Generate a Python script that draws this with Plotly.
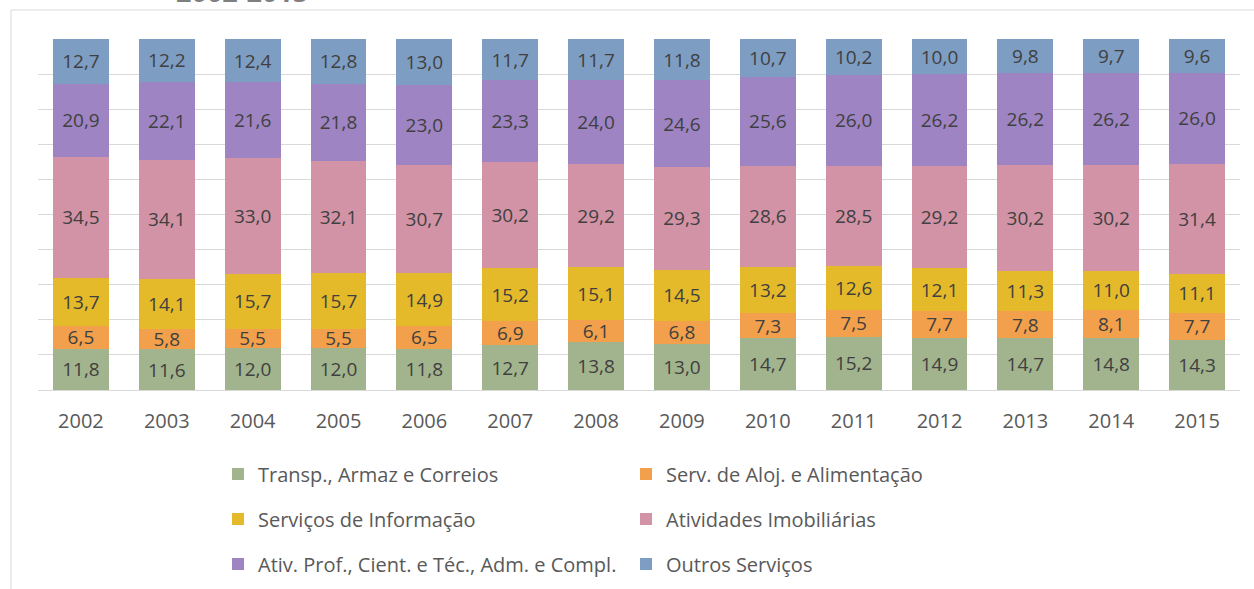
import plotly.graph_objects as go

years = ["2002", "2003", "2004", "2005", "2006", "2007", "2008", "2009",
         "2010", "2011", "2012", "2013", "2014", "2015"]

transp = [11.8, 11.6, 12.0, 12.0, 11.8, 12.7, 13.8, 13.0, 14.7, 15.2, 14.9, 14.7, 14.8, 14.3]
aloj = [6.5, 5.8, 5.5, 5.5, 6.5, 6.9, 6.1, 6.8, 7.3, 7.5, 7.7, 7.8, 8.1, 7.7]
info = [13.7, 14.1, 15.7, 15.7, 14.9, 15.2, 15.1, 14.5, 13.2, 12.6, 12.1, 11.3, 11.0, 11.1]
imob = [34.5, 34.1, 33.0, 32.1, 30.7, 30.2, 29.2, 29.3, 28.6, 28.5, 29.2, 30.2, 30.2, 31.4]
prof = [20.9, 22.1, 21.6, 21.8, 23.0, 23.3, 24.0, 24.6, 25.6, 26.0, 26.2, 26.2, 26.2, 26.0]
outros = [12.7, 12.2, 12.4, 12.8, 13.0, 11.7, 11.7, 11.8, 10.7, 10.2, 10.0, 9.8, 9.7, 9.6]

series = [
    ("Transp., Armaz e Correios", transp, "#A2B48D", "legend"),
    ("Serv. de Aloj. e Alimentação", aloj, "#F2A04B", "legend"),
    ("Serviços de Informação", info, "#E5BA2A", "legend2"),
    ("Atividades Imobiliárias", imob, "#D293A6", "legend2"),
    ("Ativ. Prof., Cient. e Téc., Adm. e Compl.", prof, "#9E84C3", "legend3"),
    ("Outros Serviços", outros, "#7E9DC3", "legend3"),
]

W, H = 1254, 589
L, R, T, B = 38, 14, 39, 199
pw, ph = W - L - R, H - T - B

def px_x(p):
    return (p - L) / pw

def px_y(p):
    return (H - B - p) / ph

fig = go.Figure()
for name, vals, color, lg in series:
    fig.add_trace(go.Bar(
        x=years, y=vals, name=name, marker=dict(color=color, line=dict(width=0)),
        text=[f"{v:.1f}".replace(".", ",") for v in vals],
        textposition="inside", insidetextanchor="middle", textangle=0,
        textfont=dict(family="Open Sans", size=19, color="#404040"),
        legend=lg,
    ))

font_leg = dict(family="Open Sans", size=20, color="#595959")
leg_common = dict(orientation="h", xanchor="left", yanchor="middle",
                  entrywidth=363, entrywidthmode="pixels", font=font_leg,
                  bgcolor="rgba(0,0,0,0)", traceorder="normal")
lx = px_x(218)

fig.update_layout(
    width=W, height=H,
    margin=dict(l=L, r=R, t=T, b=B, autoexpand=False),
    barmode="stack", barnorm="percent", bargap=0.35,
    paper_bgcolor="white", plot_bgcolor="white",
    uniformtext=dict(minsize=19, mode="show"),
    xaxis=dict(tickfont=dict(family="Open Sans", size=20, color="#595959"),
               showgrid=False, showline=False, ticks="", ticklabelstandoff=17),
    yaxis=dict(range=[0, 100], dtick=10, showticklabels=False, showgrid=True,
               gridcolor="#D9D9D9", gridwidth=1, zeroline=True,
               zerolinecolor="#D9D9D9", zerolinewidth=1),
    legend=dict(x=lx, y=px_y(474), **leg_common),
    legend2=dict(x=lx, y=px_y(519), **leg_common),
    legend3=dict(x=lx, y=px_y(564), **leg_common),
    showlegend=True,
)

fig.add_shape(type="rect", xref="paper", yref="paper",
              x0=px_x(11), x1=px_x(1262), y0=px_y(10), y1=px_y(600),
              line=dict(color="#D9D9D9", width=1), fillcolor="rgba(0,0,0,0)",
              layer="below")

fig.add_annotation(text="<b>2002-2015</b>", xref="paper", yref="paper",
                   x=px_x(242), y=px_y(-9), xanchor="center", yanchor="middle",
                   showarrow=False,
                   font=dict(family="Open Sans", size=27, color="#7F7F7F"))

fig.write_html("out.html")
